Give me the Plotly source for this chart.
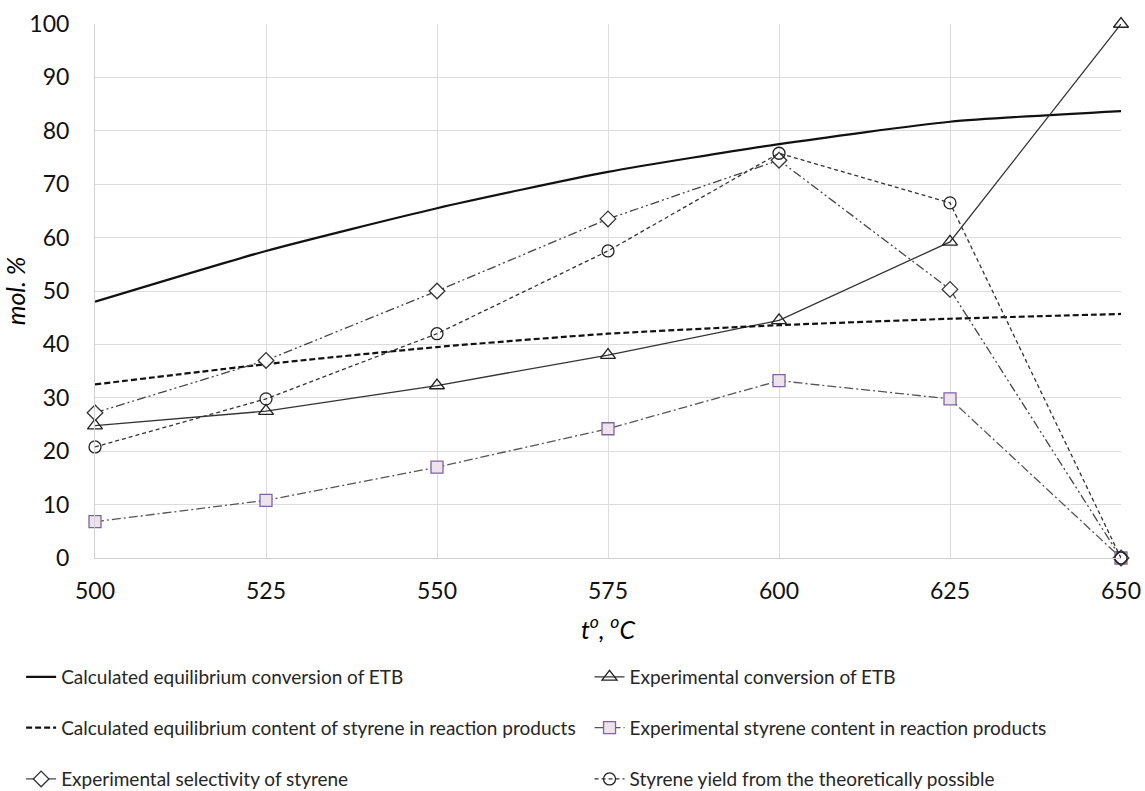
import plotly.graph_objects as go

temps = [500, 525, 550, 575, 600, 625, 650]
eq_conversion = [48.0, 57.5, 65.5, 72.3, 77.5, 81.7, 83.7]
eq_styrene = [32.5, 36.3, 39.5, 42.0, 43.6, 44.8, 45.7]
exp_conversion = [24.8, 27.5, 32.3, 38.0, 44.5, 59.2, 100.0]
exp_styrene = [6.8, 10.8, 17.0, 24.2, 33.2, 29.8, 0.0]
selectivity = [27.2, 37.0, 50.0, 63.5, 74.5, 50.3, 0.0]
yield_theor = [20.8, 29.8, 42.0, 57.5, 75.8, 66.5, 0.0]

names = [
    "Calculated equilibrium conversion of ETB",
    "Experimental conversion of ETB",
    "Calculated equilibrium content of styrene in reaction products",
    "Experimental styrene content in reaction products",
    "Experimental selectivity of styrene",
    "Styrene yield from the theoretically possible",
]

FONT = "Lato"
fig = go.Figure()

fig.add_trace(go.Scatter(x=temps, y=eq_conversion, name=names[0], mode="lines",
                         line=dict(color="#111111", width=2.2, shape="spline", smoothing=0.6),
                         legend="legend"))
fig.add_trace(go.Scatter(x=temps, y=exp_conversion, name=names[1], mode="lines+markers",
                         line=dict(color="#333333", width=1.3), cliponaxis=False,
                         marker=dict(symbol="triangle-up-open", size=13, color="#222222", line=dict(width=1.3)),
                         legend="legend2"))
fig.add_trace(go.Scatter(x=temps, y=eq_styrene, name=names[2], mode="lines",
                         line=dict(color="#111111", width=2.2, dash="6px,3px", shape="spline", smoothing=0.6),
                         legend="legend3"))
fig.add_trace(go.Scatter(x=temps, y=exp_styrene, name=names[3], mode="lines+markers",
                         line=dict(color="#555555", width=1.3, dash="9px,3px,2px,3px"), cliponaxis=False,
                         marker=dict(symbol="square", size=12, color="#ede3ea", line=dict(width=1.3, color="#8064a2")),
                         legend="legend4"))
fig.add_trace(go.Scatter(x=temps, y=selectivity, name=names[4], mode="lines+markers",
                         line=dict(color="#444444", width=1.3, dash="9px,3px,2px,3px,2px,3px"), cliponaxis=False,
                         marker=dict(symbol="diamond", size=12, color="white", line=dict(width=1.3, color="#333333")),
                         legend="legend5"))
fig.add_trace(go.Scatter(x=temps, y=yield_theor, name=names[5], mode="lines+markers",
                         line=dict(color="#333333", width=1.3, dash="4px,3px"), cliponaxis=False,
                         marker=dict(symbol="circle-open", size=12, color="#222222", line=dict(width=1.3)),
                         legend="legend6"))

row_y = [-0.223, -0.318, -0.414]
col_x = [-0.072, 0.482]
leg_common = dict(font=dict(family=FONT, size=19, color="#262626"), bgcolor="rgba(0,0,0,0)",
                  yanchor="middle", xanchor="left", itemwidth=30, orientation="h")
legends = {}
for i in range(6):
    key = "legend" if i == 0 else f"legend{i+1}"
    legends[key] = dict(x=col_x[i % 2], y=row_y[i // 2], **leg_common)

fig.update_layout(
    width=1145, height=791,
    margin=dict(l=95, r=24, t=24, b=233, autoexpand=False),
    paper_bgcolor="white", plot_bgcolor="white",
    font=dict(family=FONT, color="#000000"),
    showlegend=True,
    hovermode=False,
    xaxis=dict(range=[500, 650], tickvals=temps, showgrid=True, gridcolor="#dcdcdc", gridwidth=1,
               zeroline=False, showline=True, linecolor="#d0d0d0", automargin=False,
               tickfont=dict(size=23, family=FONT, color="#111111"), ticks="", ticklabelstandoff=12,
               title=dict(text="<i>t<sup>o</sup>, <sup>o</sup>C</i>", font=dict(size=25, family=FONT), standoff=18)),
    yaxis=dict(range=[0, 100], dtick=10, showgrid=True, gridcolor="#dcdcdc", gridwidth=1,
               zeroline=False, showline=True, linecolor="#d0d0d0", automargin=False,
               tickfont=dict(size=23, family=FONT, color="#111111"), ticks="", ticklabelstandoff=20,
               title=dict(text="<i>mol. %</i>", font=dict(size=25, family=FONT), standoff=14)),
    **legends,
)

fig.write_html("out.html", config={"displayModeBar": False},
               post_script="document.body.style.margin='0';document.body.style.overflow='hidden';")
